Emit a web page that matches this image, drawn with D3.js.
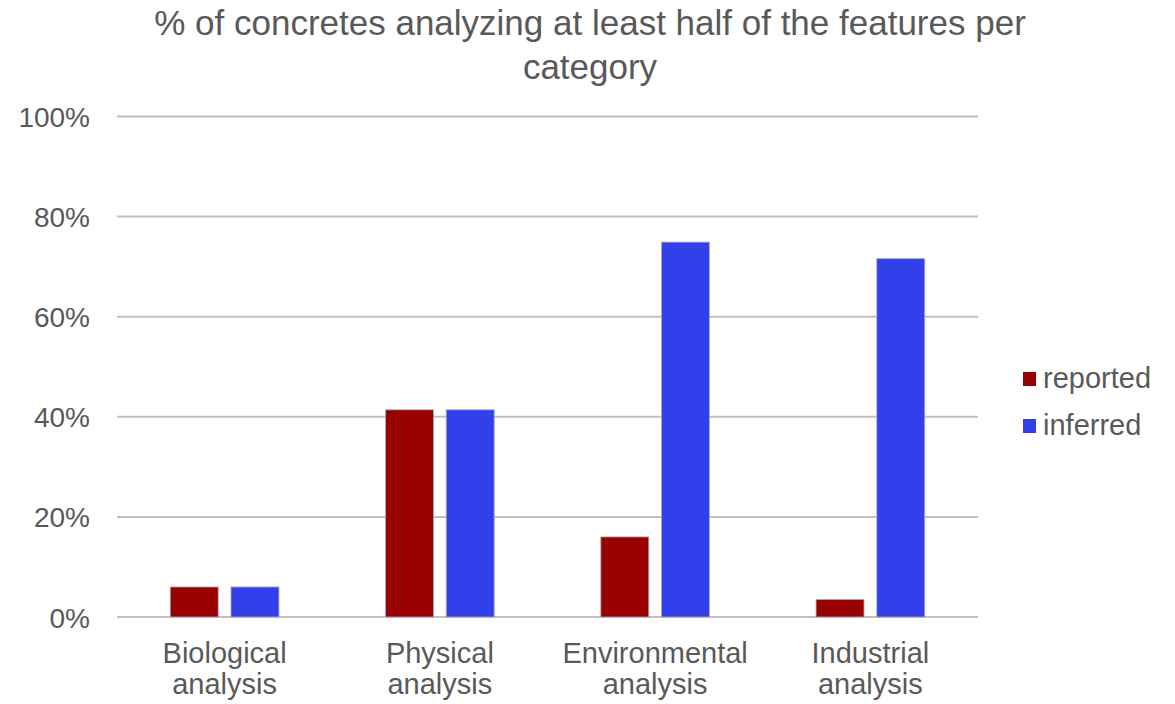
<!DOCTYPE html>
<html>
<head>
<meta charset="utf-8">
<script src="https://cdn.jsdelivr.net/npm/d3@7"></script>
<style>
  html, body { margin: 0; padding: 0; background: #fff; }
  svg { display: block; }
  text { font-family: "Liberation Sans", Arial, sans-serif; fill: #595959; }
</style>
</head>
<body>
<svg id="chart" width="1175" height="704"></svg>
<script>
// Share of concretes analyzing at least half of the features, by category
const categories = [["Biological", "analysis"], ["Physical", "analysis"], ["Environmental", "analysis"], ["Industrial", "analysis"]];
const seriesNames = ["reported", "inferred"];
const reported = [6.0, 41.4, 16.0, 3.5];
const inferred = [6.0, 41.4, 74.9, 71.6];
const yTicks = [0, 20, 40, 60, 80, 100];
const titleLines = ["% of concretes analyzing at least half of the features per", "category"];

const colors = { reported: "#990000", inferred: "#3140EA" };
const seriesValues = { reported, inferred };

const svg = d3.select("#chart");
const margin = { left: 117, right: 197, top: 116.5, bottom: 87 };
const W = 1175, H = 704;

const x = d3.scaleBand()
  .domain(d3.range(categories.length))
  .range([margin.left, W - margin.right])
  .padding(0);

const groupPad = 53.3;
const xs = d3.scaleBand()
  .domain(seriesNames)
  .range([groupPad, x.bandwidth() - groupPad])
  .paddingInner(0.21)
  .paddingOuter(0);

const y = d3.scaleLinear().domain([0, 100]).range([H - margin.bottom, margin.top]);

// Gridlines
svg.append("g")
  .selectAll("line")
  .data(yTicks)
  .join("line")
  .attr("x1", margin.left)
  .attr("x2", W - margin.right)
  .attr("y1", d => y(d))
  .attr("y2", d => y(d))
  .attr("stroke", "#c0c0c0")
  .attr("stroke-width", 2);

// Y axis labels
const yAxis = d3.axisLeft(y).tickValues(yTicks).tickFormat(d => d + "%").tickSize(0).tickPadding(0);
const yg = svg.append("g").attr("transform", `translate(90,0)`).call(yAxis);
yg.select(".domain").remove();
yg.selectAll("text")
  .attr("font-family", "Liberation Sans, Arial, sans-serif")
  .attr("font-size", 28)
  .attr("fill", "#595959")
  .attr("dy", "0.36em");

// Bars
const groups = svg.append("g")
  .selectAll("g")
  .data(categories.map((c, i) => i))
  .join("g")
  .attr("transform", i => `translate(${x(i)},0)`);

groups.selectAll("rect")
  .data(i => seriesNames.map(s => ({ s, v: seriesValues[s][i] })))
  .join("rect")
  .attr("x", d => xs(d.s))
  .attr("width", xs.bandwidth())
  .attr("y", d => y(d.v))
  .attr("height", d => y(0) - y(d.v))
  .attr("fill", d => colors[d.s])
  .attr("stroke", "rgba(170,170,190,0.8)")
  .attr("stroke-width", 1);

// Category labels
const xAxisG = svg.append("g");
xAxisG.selectAll("text")
  .data(categories.map((c, i) => ({ c, i })))
  .join("text")
  .attr("x", d => x(d.i) + x.bandwidth() / 2)
  .attr("y", 663)
  .attr("text-anchor", "middle")
  .attr("font-size", 29)
  .each(function (d) {
    d3.select(this).selectAll("tspan")
      .data(d.c)
      .join("tspan")
      .attr("x", x(d.i) + x.bandwidth() / 2)
      .attr("dy", (t, k) => k === 0 ? 0 : 31)
      .text(t => t);
  });

// Title
svg.append("text")
  .attr("x", 590)
  .attr("y", 35)
  .attr("text-anchor", "middle")
  .attr("font-size", 35)
  .selectAll("tspan")
  .data(titleLines)
  .join("tspan")
  .attr("x", 590)
  .attr("dy", (t, k) => k === 0 ? 0 : 44)
  .text(t => t);

// Legend
const legend = svg.append("g");
const legendY = d3.scalePoint().domain(seriesNames).range([379, 426]);
const items = legend.selectAll("g")
  .data(seriesNames)
  .join("g")
  .attr("transform", s => `translate(1023,${legendY(s)})`);
items.append("rect")
  .attr("x", 0).attr("y", -7)
  .attr("width", 13).attr("height", 14)
  .attr("fill", s => colors[s]);
items.append("text")
  .attr("x", 20).attr("y", 9)
  .attr("font-size", 29)
  .text(s => s);
</script>
</body>
</html>
